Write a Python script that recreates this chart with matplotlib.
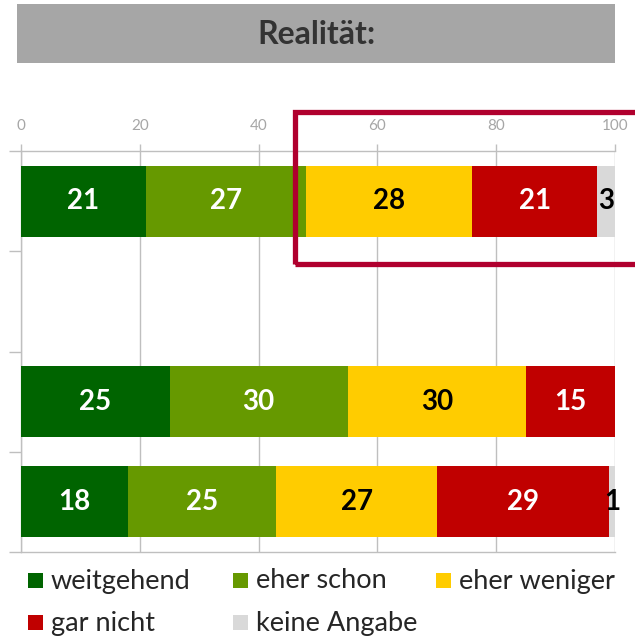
import matplotlib
matplotlib.use("Agg")
import matplotlib.pyplot as plt
from matplotlib.patches import Rectangle
import numpy as np

plt.rcParams['font.family'] = ['Lato', 'DejaVu Sans']

title = "Realität:"
categories = ["weitgehend", "eher schon", "eher weniger", "gar nicht", "keine Angabe"]
colors = ["#006400", "#669900", "#FFCC00", "#C00000", "#D9D9D9"]
label_colors = ["white", "white", "black", "white", "black"]
rows = ["Reihe 1", "", "Reihe 3", "Reihe 4"]
values = {
    "weitgehend":   [21, 0, 25, 18],
    "eher schon":   [27, 0, 30, 25],
    "eher weniger": [28, 0, 30, 27],
    "gar nicht":    [21, 0, 15, 29],
    "keine Angabe": [3, 0, 0, 1],
}
xticks = [0, 20, 40, 60, 80, 100]

W, H = 635, 636
fig = plt.figure(figsize=(W / 100, H / 100), dpi=100)

def fx(px):
    return px / W

def fy(py):
    return 1 - py / H

ax = fig.add_axes([fx(21), fy(552), fx(615) - fx(21), fy(151) - fy(552)])
y = np.arange(len(rows))
left = np.zeros(len(rows))
for cat, col, lc in zip(categories, colors, label_colors):
    v = np.array(values[cat], dtype=float)
    bars = ax.barh(y, v, left=left, height=0.71, color=col, zorder=3)
    for b, val in zip(bars, v):
        if val > 0:
            ax.text(b.get_x() + b.get_width() / 2, b.get_y() + b.get_height() / 2,
                    f"{int(val)}", ha="center", va="center", color=lc,
                    fontsize=20, fontweight="bold", zorder=4)
    left += v

grid_c = "#BFBFBF"
ax.set_xlim(0, 100)
ax.set_ylim(len(rows) - 0.5, -0.5)
ax.xaxis.tick_top()
ax.set_xticks(xticks)
ax.set_xticklabels([str(t) for t in xticks], color="#A6A6A6", fontsize=11)
ax.tick_params(axis="x", length=5, color=grid_c, width=1, pad=8)
ax.set_yticks(np.arange(-0.5, len(rows), 1.0))
ax.set_yticklabels([])
ax.tick_params(axis="y", length=9, color=grid_c, width=1)
ax.grid(axis="x", color=grid_c, linewidth=1, zorder=0)
for s in ["left", "top", "bottom"]:
    ax.spines[s].set_color(grid_c)
    ax.spines[s].set_linewidth(1)
ax.spines["right"].set_visible(False)

# title box
fig.add_artist(Rectangle((fx(17), fy(63)), fx(615) - fx(17), fy(4) - fy(63),
                         transform=fig.transFigure, facecolor="#A6A6A6", edgecolor="none"))
fig.text(fx(317), fy(34), title, ha="center", va="center", fontsize=23,
         fontweight="bold", color="#333333")

# red highlight box
fig.add_artist(Rectangle((fx(295), fy(264)), fx(660) - fx(295), fy(112) - fy(264),
                         transform=fig.transFigure, facecolor="none",
                         edgecolor="#B0002E", linewidth=3.8))

# legend
col_x = [28, 233, 436]
row_y = [580, 622]
for i, (cat, col) in enumerate(zip(categories, colors)):
    cx = col_x[i % 3]
    cy = row_y[i // 3]
    fig.add_artist(Rectangle((fx(cx), fy(cy + 7.5)), fx(15), 15 / H,
                             transform=fig.transFigure, facecolor=col, edgecolor="none"))
    fig.text(fx(cx + 23), fy(cy + 1), cat, ha="left", va="center", fontsize=19.5,
             color="#262626")

fig.savefig("out.png", dpi=100)
